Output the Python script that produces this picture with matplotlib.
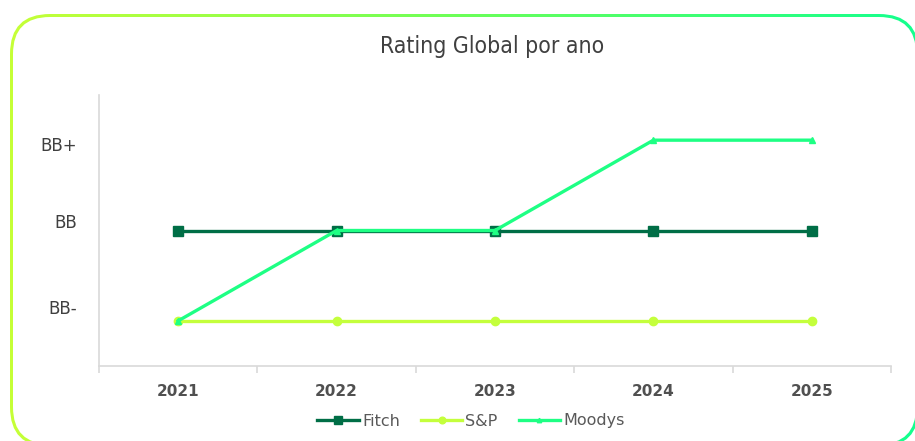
import matplotlib.pyplot as plt
import numpy as np
from matplotlib.patches import FancyBboxPatch
from matplotlib.colors import LinearSegmentedColormap

# Dati del grafico
anni = ['2021', '2022', '2023', '2024', '2025']
rating_labels = ['BB-', 'BB', 'BB+']
fitch = [2, 2, 2, 2, 2]
sp = [1, 1, 1, 1, 1]
moodys = [1, 2, 2, 3, 3]

# Colori
col_fitch = '#006e46'
col_sp = '#c4ff3c'
col_moodys = '#1eff84'
col_text = '#404040'

W, H = 915, 441
fig = plt.figure(figsize=(W / 100, H / 100), dpi=100)

# Cornice arrotondata con gradiente
bg = fig.add_axes([0, 0, 1, 1])
bg.set_xlim(0, W)
bg.set_ylim(H, 0)
bg.axis('off')

x0, y0, x1, y1, r, spess = 10, 14, 919, 447, 40, 3
cmap = LinearSegmentedColormap.from_list('bordo', ['#c8ff36', '#6cff58', '#14ff8e'])
grad = np.linspace(0, 1, 256).reshape(1, -1)
img = bg.imshow(grad, cmap=cmap, extent=[0, W, H, 0], aspect='auto', zorder=0)
esterno = FancyBboxPatch((x0, y0), x1 - x0, y1 - y0, boxstyle=f'round,pad=0,rounding_size={r}',
                         transform=bg.transData, facecolor='none', edgecolor='none')
bg.add_patch(esterno)
img.set_clip_path(esterno)
interno = FancyBboxPatch((x0 + spess, y0 + spess), x1 - x0 - 2 * spess, y1 - y0 - 2 * spess,
                         boxstyle=f'round,pad=0,rounding_size={r - spess}',
                         facecolor='white', edgecolor='none', zorder=1)
bg.add_patch(interno)

# Titolo
fig.text(492 / W, 1 - 46 / H, 'Rating Global por ano', ha='center', va='center',
         fontsize=16.5, color=col_text, family='DejaVu Sans', fontstretch='condensed')

# Grafico principale
ax = fig.add_axes([99 / W, (H - 366) / H, 792 / W, 271 / H])
ax.patch.set_alpha(0)
x = np.arange(len(anni))
ax.plot(x, fitch, color=col_fitch, lw=2.4, marker='s', ms=6.5, label='Fitch', zorder=3)
ax.plot(x, sp, color=col_sp, lw=2.4, marker='o', ms=6, label='S&P', zorder=2)
ax.plot(x, moodys, color=col_moodys, lw=2.4, marker='^', ms=4, label='Moodys', zorder=4)

ax.set_xlim(-0.5, len(anni) - 0.5)
ax.set_ylim(0.5, 3.5)
for s in ['top', 'right']:
    ax.spines[s].set_visible(False)
for s in ['left', 'bottom']:
    ax.spines[s].set_color('#d9d9d9')
    ax.spines[s].set_linewidth(1.2)

ax.set_xticks(x)
ax.set_xticklabels(anni, fontsize=11, fontweight='bold', color='#505050')
ax.tick_params(axis='x', length=0, pad=13)
ax.set_xticks(np.arange(-0.5, len(anni)), minor=True)
ax.tick_params(axis='x', which='minor', length=5, color='#d9d9d9', width=1.2)

# etichette rating leggermente spostate come nell'originale
ax.set_yticks([1.155, 2.11, 2.96])
ax.set_yticklabels(rating_labels, fontsize=12, color=col_text)
ax.tick_params(axis='y', length=0, pad=16)

fig.legend(loc='center', bbox_to_anchor=(471 / W, 1 - 421 / H), ncol=3, frameon=False,
           fontsize=11.5, labelcolor='#595959', handlelength=2.6, handletextpad=0.2,
           columnspacing=1.3, markerscale=0.8)

fig.savefig('out.png', dpi=100)
